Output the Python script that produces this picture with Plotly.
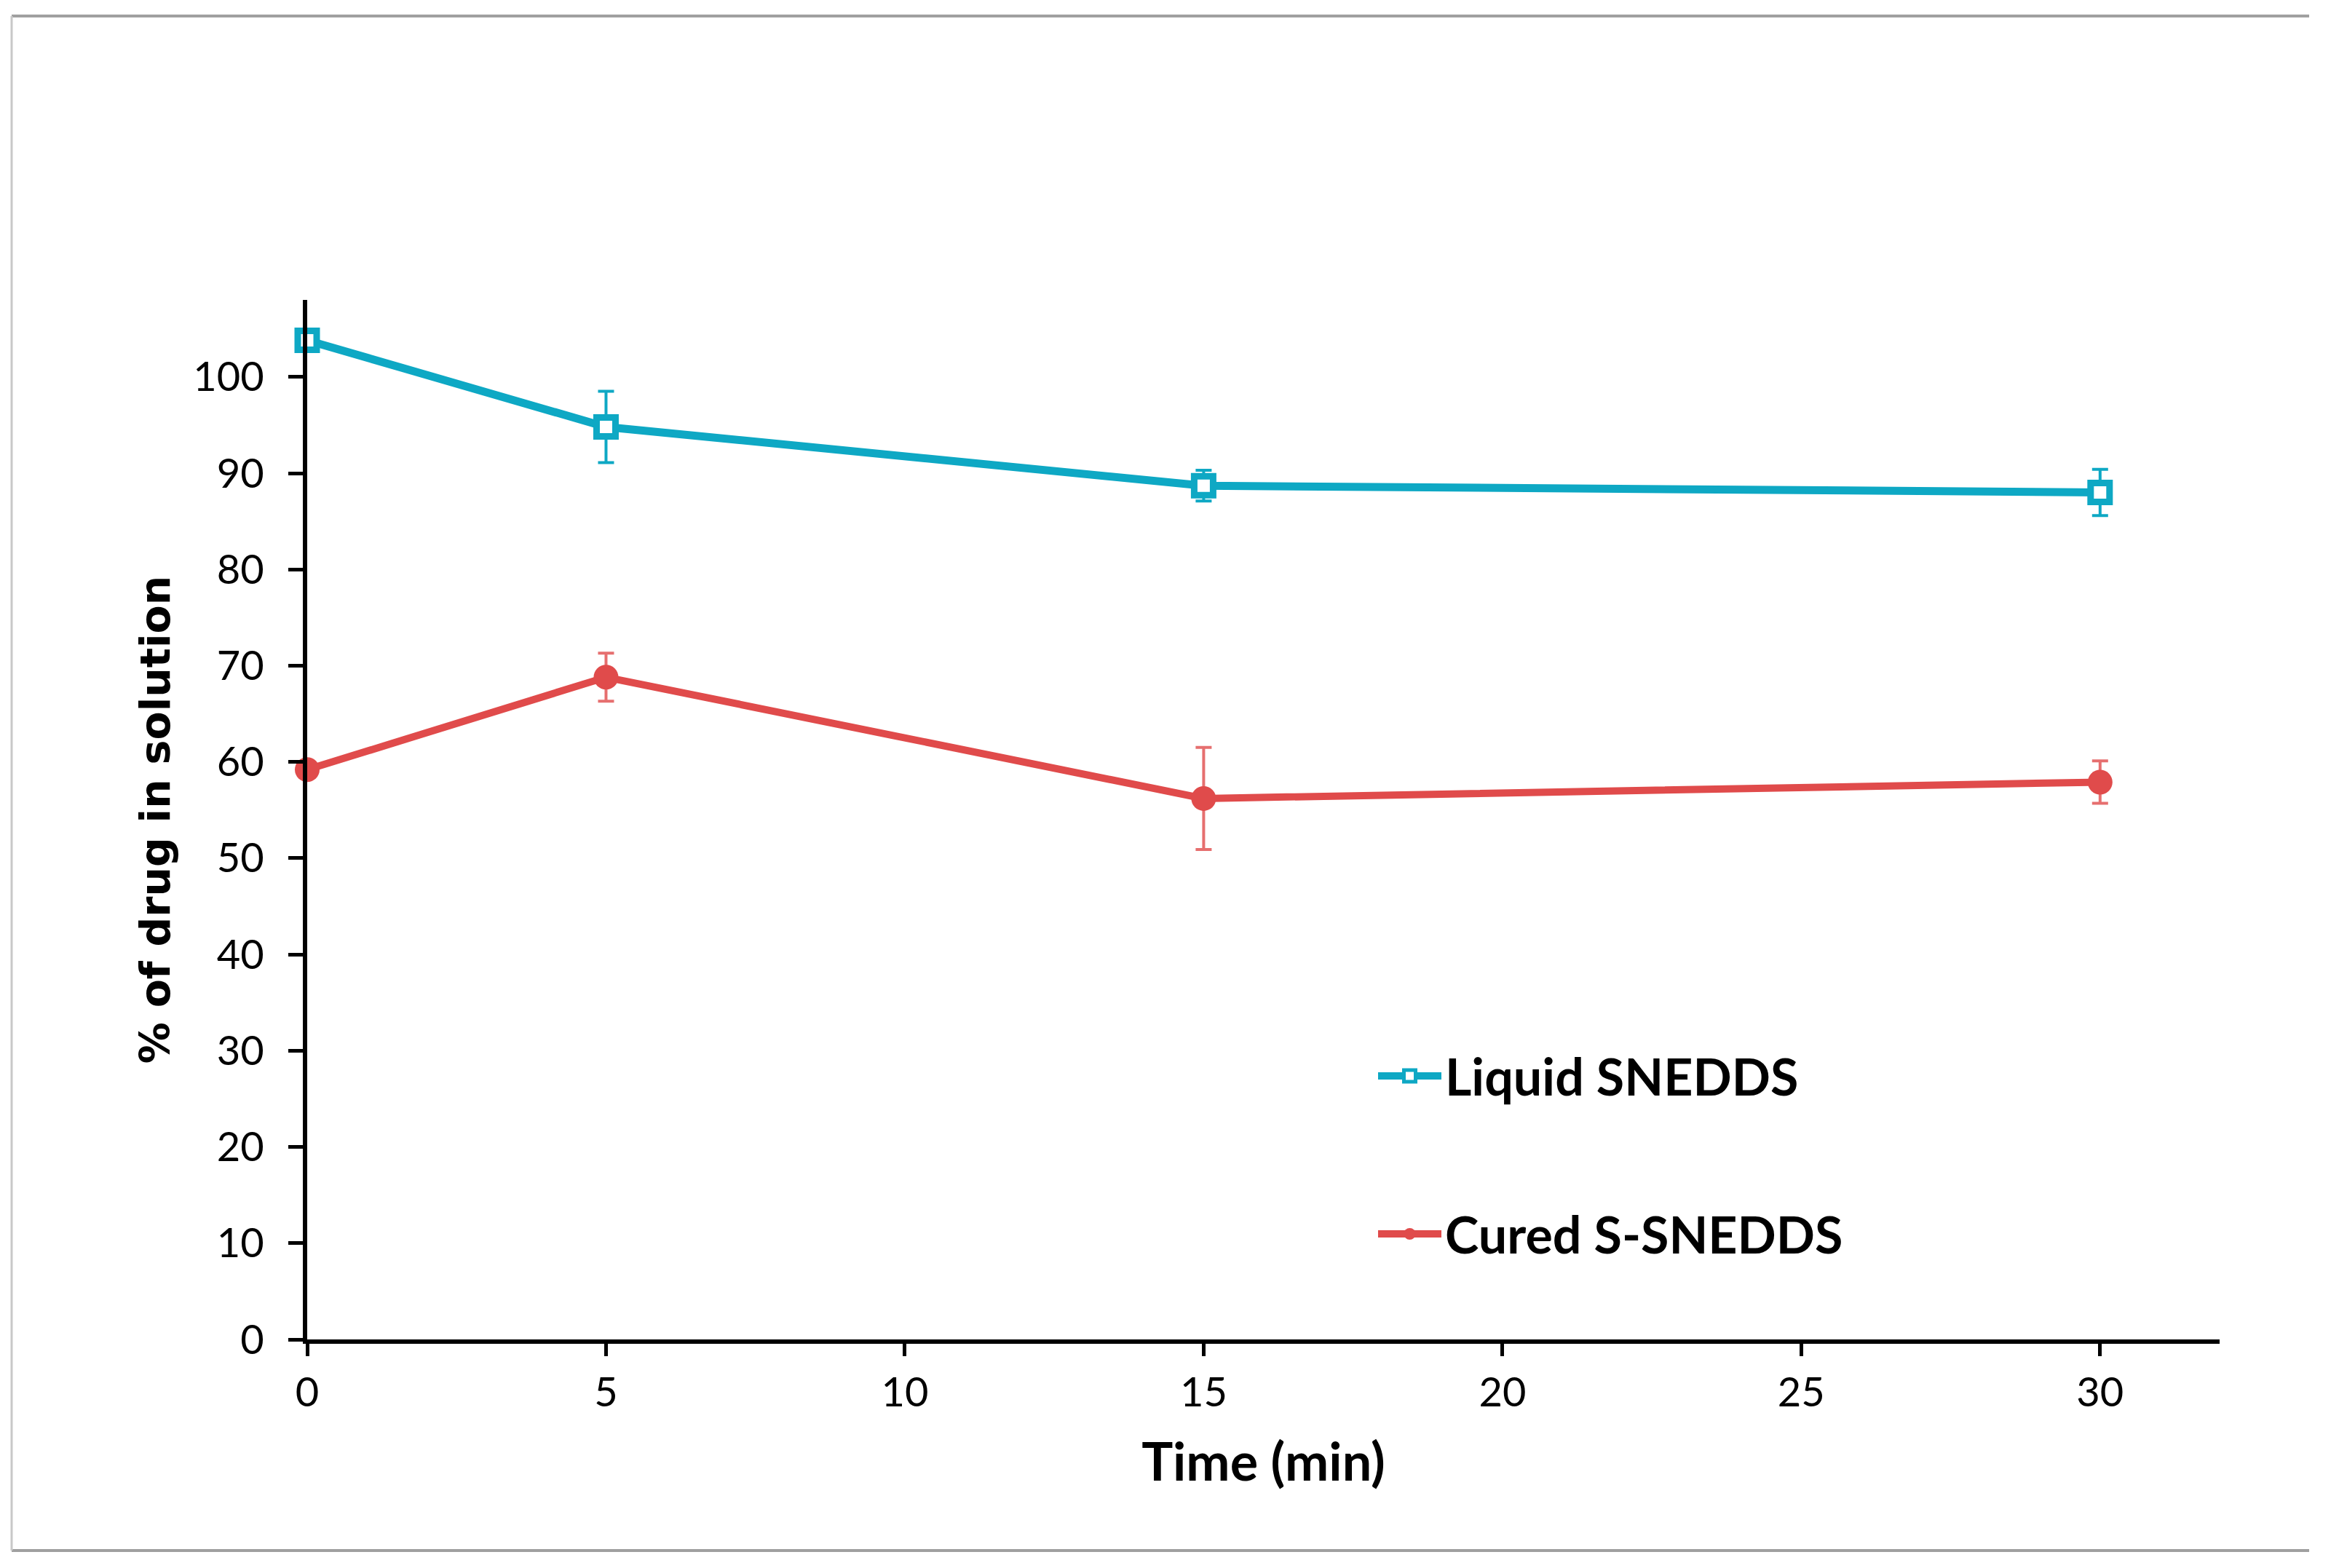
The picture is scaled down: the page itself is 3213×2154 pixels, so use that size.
import plotly.graph_objects as go

# ---- data ----
time_min = [0, 5, 15, 30]
liquid_vals = [103.8, 94.8, 88.7, 88.0]
liquid_err = [0.0, 3.7, 1.6, 2.4]
cured_vals = [59.2, 68.8, 56.2, 57.9]
cured_err = [0.0, 2.5, 5.3, 2.2]
x_ticks = [0, 5, 10, 15, 20, 25, 30]
y_ticks = [0, 10, 20, 30, 40, 50, 60, 70, 80, 90, 100]

series_names = ["Liquid SNEDDS", "Cured S-SNEDDS"]
cyan = "#0EA8C4"
red = "#E04B4B"

W, H = 3213, 2154
ML, MR, MT, MB = 414, 172, 404, 322
PW, PH = W - ML - MR, H - MT - MB


def px_x(p):
    return (p - ML) / PW


def px_y(p):
    return (H - MB - p) / PH


fig = go.Figure()

fig.add_trace(go.Scatter(
    x=time_min, y=liquid_vals, name=series_names[0], mode="lines+markers",
    legendgroup="a",
    line=dict(color=cyan, width=11),
    marker=dict(symbol="square", size=26, color="white", line=dict(color=cyan, width=9)),
    error_y=dict(type="data", array=liquid_err, visible=True, color=cyan, thickness=4, width=11),
    cliponaxis=False,
))
fig.add_trace(go.Scatter(
    x=time_min, y=cured_vals, name=series_names[1], mode="lines+markers",
    legendgroup="b",
    line=dict(color=red, width=10),
    marker=dict(symbol="circle", size=34, color=red, line=dict(width=0)),
    error_y=dict(type="data", array=cured_err, visible=True, color="rgba(224,75,75,0.8)", thickness=4, width=11),
    cliponaxis=False,
))

fig.update_layout(
    width=W, height=H,
    margin=dict(l=ML, r=MR, t=MT, b=MB, autoexpand=False),
    paper_bgcolor="white", plot_bgcolor="white",
    showlegend=True,
    legend=dict(
        x=px_x(1880), y=px_y(1418), xanchor="left", yanchor="top",
        font=dict(family="Lato", size=70, color="black", weight="bold"),
        tracegroupgap=123, traceorder="grouped", itemwidth=87,
        bgcolor="rgba(0,0,0,0)",
    ),
    xaxis=dict(
        range=[0, 32], tickvals=x_ticks, ticktext=[str(v) for v in x_ticks],
        showgrid=False, zeroline=False,
        showline=True, linecolor="black", linewidth=6,
        ticks="outside", ticklen=17, tickwidth=5, tickcolor="black",
        tickfont=dict(family="Lato", size=56, color="black"),
        ticklabelstandoff=2,
        title=dict(text="Time (min)", font=dict(family="Lato", size=72, color="black", weight="bold"),
                   standoff=42),
    ),
    yaxis=dict(
        range=[0, 108], tickvals=y_ticks, ticktext=[str(v) for v in y_ticks],
        showgrid=False, zeroline=False,
        showline=True, linecolor="black", linewidth=6,
        ticks="outside", ticklen=20, tickwidth=5, tickcolor="black",
        tickfont=dict(family="Lato", size=56, color="black"),
        ticklabelstandoff=22,
        title=dict(text="% of drug in solution",
                   font=dict(family="DejaVu Sans", size=57, color="black", weight="bold"),
                   standoff=15),
    ),
    shapes=[
        dict(type="line", xref="paper", yref="paper", x0=px_x(8), x1=px_x(3164), y0=px_y(14), y1=px_y(14),
             line=dict(color="#A0A0A0", width=4)),
        dict(type="line", xref="paper", yref="paper", x0=px_x(8), x1=px_x(3164), y0=px_y(2122), y1=px_y(2122),
             line=dict(color="#A0A0A0", width=4)),
        dict(type="line", xref="paper", yref="paper", x0=px_x(8), x1=px_x(8), y0=px_y(14), y1=px_y(2122),
             line=dict(color="#C8C8C8", width=3)),
    ],
)

fig.write_html("out.html")
